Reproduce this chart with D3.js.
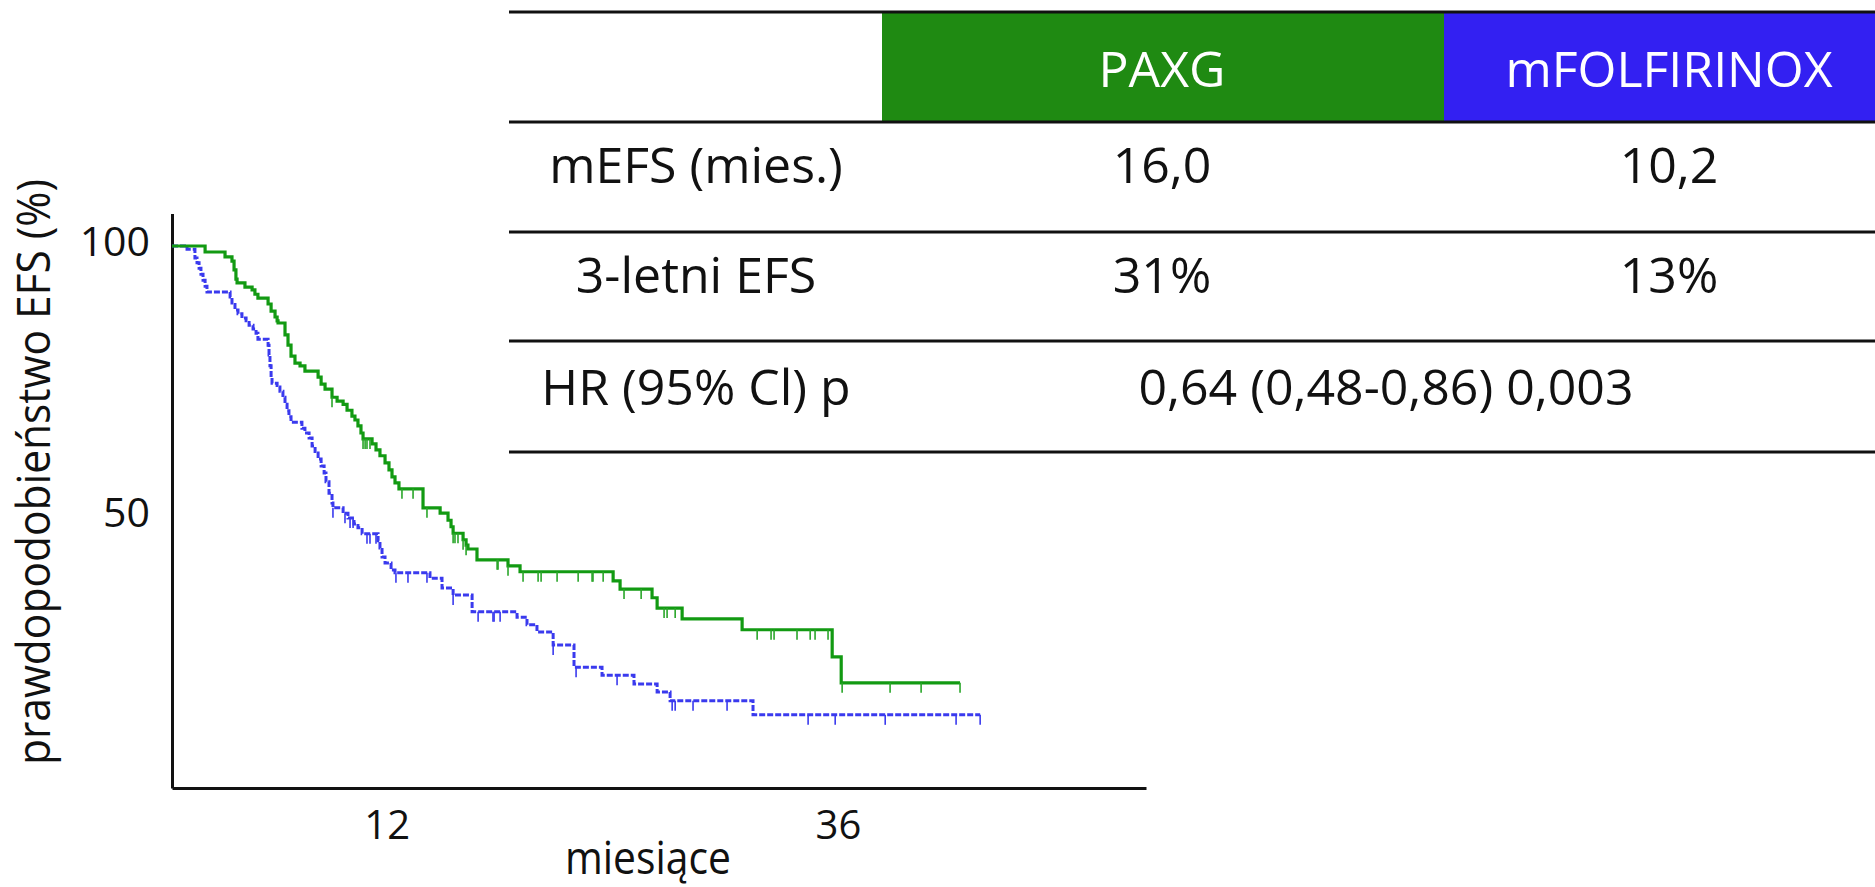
<!DOCTYPE html>
<html lang="pl">
<head>
<meta charset="utf-8">
<title>EFS: PAXG vs mFOLFIRINOX</title>
<script src="https://cdn.jsdelivr.net/npm/d3@7"></script>
<style>
  html, body { margin: 0; padding: 0; background: #fff; }
  svg { display: block; font-family: "Open Sans", "Noto Sans", sans-serif; }
</style>
</head>
<body>
<svg id="chart" width="1875" height="887"></svg>
<script>
// ---- Kaplan–Meier data (months, % event-free) ----
const paxgTime = [1.76, 2.82, 3.19, 3.30, 3.40, 3.46, 3.88, 4.26, 4.41, 4.57, 5.11, 5.27, 5.48, 5.59, 5.64,
  6.01, 6.17, 6.33, 6.54, 6.81, 7.07, 7.77, 7.93, 8.14, 8.51, 8.78, 9.10, 9.31, 9.57, 9.73, 9.89, 10.05,
  10.16, 10.64, 10.85, 11.06, 11.33, 11.54, 11.70, 11.86, 12.07, 13.35, 14.26, 14.68, 14.84, 14.95, 15.48,
  15.64, 15.74, 16.22, 17.87, 18.51, 23.46, 23.83, 25.53, 25.80, 27.13, 30.32, 35.11, 35.59];
const paxgSurv = [98.9, 98.0, 97.2, 95.6, 93.9, 93.2, 92.4, 91.9, 91.1, 90.4, 89.3, 88.0, 86.9, 86.2, 85.8,
  83.6, 81.7, 79.7, 78.4, 77.9, 76.9, 75.8, 74.5, 73.6, 72.1, 71.4, 70.8, 69.7, 68.6, 67.9, 66.8, 65.5,
  64.4, 63.5, 62.4, 61.3, 60.0, 58.7, 57.4, 56.3, 55.2, 51.7, 50.7, 49.4, 48.2, 47.0, 45.8,
  44.8, 44.1, 42.1, 41.0, 39.9, 38.2, 36.7, 35.1, 33.2, 31.2, 29.2, 24.2, 19.4];
const paxgCensor = [8.51, 10.16, 10.27, 10.37, 10.53, 12.23, 12.82, 13.56, 14.95, 15.05, 15.21, 15.48, 15.64,
  17.29, 17.34, 17.87, 18.67, 19.47, 19.63, 20.48, 21.60, 22.34, 22.39, 22.93, 24.04, 24.95, 26.17, 26.33,
  26.76, 31.12, 31.86, 32.02, 33.24, 33.94, 34.20, 34.89, 35.64, 38.19, 39.84, 41.91];
const paxgEnd = 41.91;

const folfTime = [0.80, 1.22, 1.33, 1.44, 1.54, 1.65, 1.76, 1.86, 3.09, 3.19, 3.35, 3.51, 3.72, 3.94, 4.10,
  4.31, 4.47, 4.57, 5.11, 5.16, 5.21, 5.27, 5.32, 5.59, 5.74, 5.90, 6.01, 6.12, 6.22, 6.33, 6.91, 7.07,
  7.29, 7.45, 7.61, 7.77, 7.93, 8.09, 8.19, 8.35, 8.51, 8.56, 9.10, 9.36, 9.68, 9.89, 10.11, 10.96, 11.06,
  11.17, 11.33, 11.65, 11.86, 13.72, 14.36, 14.95, 15.96, 18.35, 18.88, 19.41, 20.27, 21.38, 22.87, 24.57,
  25.80, 26.49, 30.90];
const folfSurv = [99.4, 97.8, 96.9, 95.9, 94.8, 93.7, 92.6, 91.5, 90.6, 89.5, 88.2, 87.5, 86.7, 86.2, 85.4,
  84.7, 83.9, 82.8, 81.7, 79.9, 77.9, 75.8, 74.7, 74.0, 73.2, 72.1, 70.8, 69.6, 68.5, 67.5, 66.4, 65.5,
  64.6, 63.1, 61.8, 60.7, 59.4, 58.1, 56.5, 54.4, 52.6, 51.7, 50.7, 49.8, 48.7, 48.0, 46.9, 45.6, 44.3,
  42.6, 41.5, 40.2, 39.7, 38.7, 36.9, 35.6, 32.5, 31.5, 30.1, 28.8, 26.4, 22.3, 20.8, 19.2,
  17.7, 16.1, 13.5];
const folfCensor = [8.56, 9.20, 9.47, 9.63, 10.37, 10.53, 10.85, 11.91, 12.55, 13.56, 14.95, 16.28, 17.07,
  17.13, 17.45, 20.27, 21.49, 23.67, 26.60, 26.76, 27.71, 29.52, 33.83, 35.27, 37.93, 41.70, 42.98];
const folfEnd = 42.98;

// ---- axis ticks ----
const xTicks = [12, 36];
const yTicks = [50, 100];

// ---- summary table ----
const armNames = ["PAXG", "mFOLFIRINOX"];
const rowLabels = ["mEFS (mies.)", "3-letni EFS", "HR (95% Cl) p"];
const medianEfs = ["16,0", "10,2"];
const efs3y = ["31%", "13%"];
const hrText = "0,64 (0,48-0,86) 0,003";

const GREEN_LINE = "#129a12";
const BLUE_LINE = "#3a3aee";
const GREEN_HEAD = "#1f8a12";
const BLUE_HEAD = "#3320f2";

const svg = d3.select("#chart");

// ---- scales ----
const x = d3.scaleLinear().domain([0, 51.8]).range([172, 1146]);
const y = d3.scaleLinear().domain([0, 106]).range([788, 213.5]);

// ---- axes ----
const yAxis = svg.append("g")
  .attr("transform", `translate(${x(0)},0)`)
  .call(d3.axisLeft(y).tickValues(yTicks).tickSize(0).tickSizeOuter(0).tickPadding(22));
yAxis.select(".domain").attr("stroke", "#111").attr("stroke-width", 3);
yAxis.selectAll("text").attr("font-size", 41).attr("fill", "#111")
  .attr("font-family", "Open Sans").attr("dy", "0.23em");

const xAxis = svg.append("g")
  .attr("transform", `translate(0,${y(0)})`)
  .call(d3.axisBottom(x).tickValues(xTicks).tickSize(0).tickSizeOuter(0).tickPadding(23));
xAxis.select(".domain").attr("stroke", "#111").attr("stroke-width", 3);
xAxis.selectAll("text").attr("font-size", 40).attr("fill", "#111")
  .attr("font-family", "Open Sans").attr("dx", -11);

// axis titles
svg.append("text")
  .attr("transform", "translate(50,472) rotate(-90)")
  .attr("text-anchor", "middle")
  .attr("font-size", 46)
  .attr("textLength", 586)
  .attr("lengthAdjust", "spacingAndGlyphs")
  .attr("fill", "#111")
  .text("prawdopodobieństwo EFS (%)");

svg.append("text")
  .attr("x", 648).attr("y", 874)
  .attr("text-anchor", "middle")
  .attr("font-size", 45)
  .attr("textLength", 166)
  .attr("lengthAdjust", "spacingAndGlyphs")
  .attr("fill", "#111")
  .text("miesiące");

// ---- survival curves ----
function stepPoints(times, surv, end) {
  const pts = [[0, 100]];
  times.forEach((t, i) => pts.push([t, surv[i]]));
  pts.push([end, surv[surv.length - 1]]);
  return pts;
}
function levelAt(times, surv, t) {
  let v = 100;
  for (let i = 0; i < times.length; i++) { if (times[i] <= t + 1e-9) v = surv[i]; else break; }
  return v;
}
const line = d3.line().x(d => x(d[0])).y(d => y(d[1])).curve(d3.curveStepAfter);

function drawArm(times, surv, censor, end, color, width, dash, tickColor) {
  const g = svg.append("g");
  g.append("path")
    .datum(stepPoints(times, surv, end))
    .attr("fill", "none")
    .attr("stroke", color)
    .attr("stroke-width", width)
    .attr("stroke-dasharray", dash)
    .attr("d", line);
  g.selectAll("line.censor")
    .data(censor)
    .join("line")
    .attr("class", "censor")
    .attr("x1", d => x(d)).attr("x2", d => x(d))
    .attr("y1", d => y(levelAt(times, surv, d)))
    .attr("y2", d => y(levelAt(times, surv, d)) + 10)
    .attr("stroke", tickColor)
    .attr("stroke-width", 1.6);
}
drawArm(folfTime, folfSurv, folfCensor, folfEnd, BLUE_LINE, 3, "6,2", BLUE_LINE);
drawArm(paxgTime, paxgSurv, paxgCensor, paxgEnd, GREEN_LINE, 3.2, null, "#2aa62a");

// ---- summary table ----
const tbl = svg.append("g").attr("font-family", "Open Sans").attr("font-size", 50);
const colX = [509, 882, 1444, 1875];
const rowY = [12, 122, 232, 341, 452];
const col1C = 696, col2C = 1162, col3C = 1669;

tbl.append("rect").attr("x", colX[1]).attr("y", rowY[0]).attr("width", colX[2] - colX[1])
  .attr("height", rowY[1] - rowY[0]).attr("fill", GREEN_HEAD);
tbl.append("rect").attr("x", colX[2]).attr("y", rowY[0]).attr("width", colX[3] - colX[2])
  .attr("height", rowY[1] - rowY[0]).attr("fill", BLUE_HEAD);

tbl.selectAll("line.rule")
  .data(rowY)
  .join("line")
  .attr("class", "rule")
  .attr("x1", colX[0]).attr("x2", colX[3])
  .attr("y1", d => d).attr("y2", d => d)
  .attr("stroke", "#111").attr("stroke-width", 3);

tbl.selectAll("text.head")
  .data(armNames)
  .join("text")
  .attr("class", "head")
  .attr("x", (d, i) => [col2C, col3C][i])
  .attr("y", 87)
  .attr("text-anchor", "middle")
  .attr("fill", "#fff")
  .text(d => d);

const baselines = [183, 293, 405];
tbl.selectAll("text.rowlab")
  .data(rowLabels)
  .join("text")
  .attr("class", "rowlab")
  .attr("x", col1C)
  .attr("y", (d, i) => baselines[i])
  .attr("text-anchor", "middle")
  .attr("fill", "#111")
  .text(d => d);

[medianEfs, efs3y].forEach((vals, r) => {
  vals.forEach((v, c) => {
    tbl.append("text")
      .attr("x", [col2C, col3C][c])
      .attr("y", baselines[r])
      .attr("text-anchor", "middle")
      .attr("fill", "#111")
      .text(v);
  });
});
tbl.append("text")
  .attr("x", 1386).attr("y", baselines[2])
  .attr("text-anchor", "middle")
  .attr("fill", "#111")
  .text(hrText);
</script>
</body>
</html>
